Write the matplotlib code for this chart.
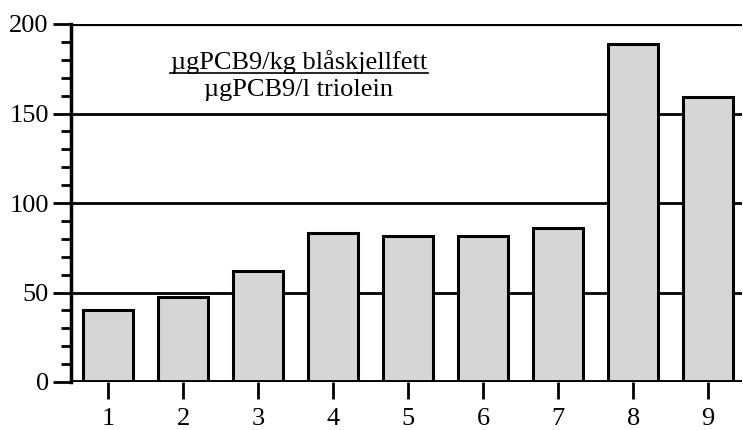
import matplotlib.pyplot as plt
from matplotlib.ticker import MultipleLocator

plt.rcParams['font.family'] = ['Liberation Serif', 'DejaVu Serif']

stations = [1, 2, 3, 4, 5, 6, 7, 8, 9]
ratio = [40, 47.5, 62, 83, 81.5, 81.5, 86, 189, 159]
yticks = [0, 50, 100, 150, 200]

W, H = 743, 430
fig = plt.figure(figsize=(W / 100, H / 100), dpi=100)
ax = fig.add_axes([71 / W, 1 - 382 / H, (742 - 71) / W, (382 - 24) / H])

ax.bar(stations, ratio, width=0.66, color='#d6d6d6', edgecolor='black',
       linewidth=2.2, zorder=3)

for v in yticks[1:]:
    ax.axhline(v, color='black', lw=3 if v == 200 else 2, zorder=1)
ax.axhline(0, color='black', lw=3.5, zorder=4)

ax.set_xlim(0.507, 9.45)
ax.set_ylim(0, 200)
ax.set_xticks(stations)
ax.set_yticks(yticks)
ax.yaxis.set_minor_locator(MultipleLocator(10))
ax.tick_params(axis='y', which='major', length=13, width=2, direction='out',
               labelsize=19, pad=3)
ax.tick_params(axis='y', which='minor', length=7, width=2, direction='out')
ax.tick_params(axis='x', length=12, width=2, direction='out',
               labelsize=19, pad=7)

for s in ['top', 'right', 'bottom']:
    ax.spines[s].set_visible(False)
ax.spines['left'].set_linewidth(2.5)
ax.spines['left'].set_zorder(5)

ax.text(299 / W, 1 - 69 / H, 'µgPCB9/kg blåskjellfett', transform=fig.transFigure,
        fontsize=19, ha='center', va='baseline')
ax.plot([170 / W, 428 / W], [1 - 72.5 / H, 1 - 72.5 / H], transform=fig.transFigure,
        color='black', lw=1.2, clip_on=False)
ax.text(299 / W, 1 - 96 / H, 'µgPCB9/l triolein', transform=fig.transFigure,
        fontsize=19, ha='center', va='baseline')

fig.savefig('out.png', dpi=100)
